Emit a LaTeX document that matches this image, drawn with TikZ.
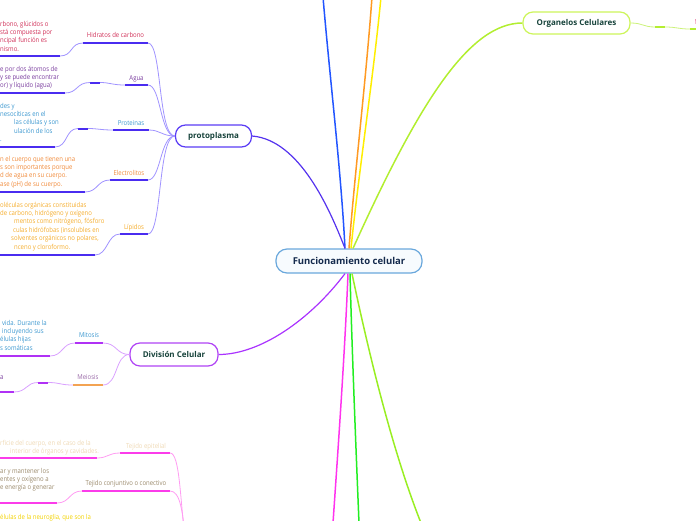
\documentclass[tikz,border=0pt]{standalone}
\usepackage{fontspec}
\setmainfont{Open Sans}
\newfontfamily\detfont[FakeStretch=0.88]{Open Sans}
\definecolor{cenB}{HTML}{6AA8DC}
\definecolor{cenF}{HTML}{F7FBFE}
\definecolor{cenT}{HTML}{142A4D}
\definecolor{nodeT}{HTML}{17433B}
\definecolor{protB}{HTML}{5A3CF5}
\definecolor{divB}{HTML}{B044F5}
\definecolor{orgB}{HTML}{CDF55A}
\definecolor{lBlue}{HTML}{2255FF}
\definecolor{lOrange}{HTML}{FF9A22}
\definecolor{lYellow}{HTML}{FFEE00}
\definecolor{lYG}{HTML}{B2EE30}
\definecolor{lProt}{HTML}{5533EE}
\definecolor{lDiv}{HTML}{AA33FF}
\definecolor{lMag}{HTML}{FF33EE}
\definecolor{lGreen}{HTML}{22EE22}
\definecolor{lYG2}{HTML}{99EE22}
\definecolor{pThk}{HTML}{4A2CF0}
\definecolor{pThn}{HTML}{A093FF}
\definecolor{dThk}{HTML}{B031F5}
\definecolor{dThn}{HTML}{D9A0FF}
\definecolor{meiU}{HTML}{F3A352}
\definecolor{tThk}{HTML}{FB3CEA}
\definecolor{tThn}{HTML}{FF9CF2}
\definecolor{oThn}{HTML}{CCF27A}
\definecolor{oThk}{HTML}{B4EE30}
\definecolor{crimT}{HTML}{D03058}
\definecolor{purT}{HTML}{7A3D9E}
\definecolor{bluT}{HTML}{3B97CF}
\definecolor{oraT}{HTML}{F08A3A}
\definecolor{yorT}{HTML}{F4AC2C}
\definecolor{meiT}{HTML}{9A6AA8}
\definecolor{epiT}{HTML}{EFD9B5}
\definecolor{conT}{HTML}{9B8A6C}
\definecolor{yelT}{HTML}{F2D200}
\definecolor{pinkT}{HTML}{E86A9A}
\begin{document}
\begin{tikzpicture}[x=1pt,y=-1pt,
  hub/.style={draw, rounded corners=10pt, line width=1.2pt, inner sep=0pt, fill=white,
    font=\bfseries\fontsize{8}{9}\selectfont, text=nodeT},
  lbl/.style={inner sep=0pt, anchor=base, font=\detfont\fontsize{6.8}{8.4}\selectfont},
  txt/.style={inner sep=0pt, anchor=base west, align=left, font=\detfont\fontsize{6.8}{8.4}\selectfont},
  mainline/.style={line width=1.5pt},
  thk/.style={line width=2pt},
  thn/.style={line width=0.8pt},
]
\useasboundingbox (0,0) rectangle (696,520);

% ---------- main nodes ----------
\node[hub, draw=cenB, fill=cenF, text=cenT, minimum width=146pt, minimum height=24pt,
  rounded corners=11pt, font=\bfseries\fontsize{9.5}{11}\selectfont] (central) at (349,261) {Funcionamiento celular};
\node[hub, draw=protB, minimum width=76pt, minimum height=22pt] (proto) at (213.5,136) {protoplasma};
\node[hub, draw=divB, minimum width=88pt, minimum height=23pt] (divi) at (174,354.5) {División Celular};
\node[hub, draw=orgB, minimum width=107pt, minimum height=22pt] (organ) at (576.5,23) {Organelos Celulares};

% ---------- far ends of main connectors ----------
\coordinate (eBlue) at (323,-3);
\coordinate (eOrange) at (372,-3);
\coordinate (eYellow) at (381,-3);
\coordinate (eMag) at (333,523);
\coordinate (eGreen) at (359,523);
\coordinate (eYG) at (421,523);

% ---------- main connectors ----------
\draw[mainline, lBlue] ([xshift=-4pt]central.north) .. controls (341,170) and (330,80) .. (eBlue);
\draw[mainline, lOrange] ([xshift=0pt]central.north) .. controls (355,170) and (366,80) .. (eOrange);
\draw[mainline, lYellow] ([xshift=2pt]central.north) .. controls (359,170) and (373,80) .. (eYellow);
\draw[mainline, lYG] ([xshift=4pt]central.north) .. controls (420,100) and (470,23) .. (organ.west);
\draw[mainline, lProt, line width=1.2pt] (proto.east) .. controls (300,140) and (330,210) .. ([xshift=-4pt]central.north);
\draw[mainline, lDiv, line width=1.2pt] ([xshift=-4pt]central.south) .. controls (310,320) and (260,354.5) .. (divi.east);
\draw[mainline, lMag] ([xshift=-1pt]central.south) .. controls (345,350) and (338,450) .. (eMag);
\draw[mainline, lGreen] ([xshift=1pt]central.south) .. controls (352,350) and (356,450) .. (eGreen);
\draw[mainline, lYG2] ([xshift=3pt]central.south) .. controls (368,350) and (392,450) .. (eYG);

% ---------- Organelos right side ----------
\coordinate (oA) at (655,27);
\coordinate (oB) at (665,27);
\coordinate (oC) at (690,29);
\coordinate (oD) at (700,29);
\draw[thn, oThn] (organ.east) .. controls (643,23) and (643,27) .. (oA);
\draw[thk, oThk] (oA) -- (oB);
\draw[thn, oThn] (oB) .. controls (677,27) and (678,29) .. (oC);
\draw[thk, oThk] (oC) -- (oD);
\node[txt, text=pinkT] (orgText) at (694.5,24) {M};

% ---------- protoplasma subtree ----------
\node[lbl, text=crimT] (hidL) at (115.5,37.5) {Hidratos de carbono};
\node[lbl, text=purT] (aguL) at (136.5,80.5) {Agua};
\node[lbl, text=bluT] (proL) at (131,125.5) {Proteinas};
\node[lbl, text=oraT] (eleL) at (129,175.5) {Electrolitos};
\node[lbl, text=yorT] (lipL) at (134,229.5) {Lípidos};

\coordinate (hidA) at (83,43);  \coordinate (hidB) at (148,43);
\coordinate (aguA) at (125,85); \coordinate (aguB) at (148,85);
\coordinate (proA) at (113,130); \coordinate (proB) at (149,130);
\coordinate (eleA) at (110,180); \coordinate (eleB) at (148,180);
\coordinate (lipA) at (120,234); \coordinate (lipB) at (148,234);

\foreach \n in {hid,agu,pro,ele,lip}{\draw[thk, pThk] (\n A) -- (\n B);}
\draw[thn, pThn] (hidB) .. controls (162,43) and (158,136) .. (proto.west);
\draw[thn, pThn] (aguB) .. controls (161,85) and (160,136) .. (proto.west);
\draw[thn, pThn] (proB) .. controls (160,130) and (162,136) .. (proto.west);
\draw[thn, pThn] (eleB) .. controls (161,180) and (160,136) .. (proto.west);
\draw[thn, pThn] (lipB) .. controls (162,234) and (158,136) .. (proto.west);

% detail texts (anchor = baseline of the last line)
\node[txt, text=crimT] (hidT) at (0,51.2) {rbono, glúcidos o\\stá compuesta por\\ncipal función es\\nismo.};
\node[txt, text=purT] (aguT) at (0,87.8) {e por dos átomos de\\y se puede encontrar\\or) y líquido (agua)};
\node[txt, text=bluT] (proT) at (0,141.6) {des y\\nesocíticas en el\\\hspace*{14pt}las células y son\\\hspace*{14pt}ulación de los\\.};
\node[txt, text=oraT] (eleT) at (0,186.2) {n el cuerpo que tienen una\\s son importantes porque\\d de agua en su cuerpo.\\ase (pH) de su cuerpo.};
\node[txt, text=yorT] (lipT) at (0,249) {oléculas orgánicas constituidas\\de carbono, hidrógeno y oxígeno\\\hspace*{14pt}mentos como nitrógeno, fósforo\\\hspace*{13pt}culas hidrófobas (insolubles en\\\hspace*{11pt}solventes orgánicos no polares,\\\hspace*{14pt}nceno y cloroformo.};

\coordinate (hidU) at (60,56);  \coordinate (hidU0) at (-5,56);
\coordinate (aguD1) at (100,82.5); \coordinate (aguD2) at (90,82.5);
\coordinate (aguU) at (65,93); \coordinate (aguU0) at (-5,93);
\coordinate (proD1) at (88,128.5); \coordinate (proD2) at (78,128.5);
\coordinate (proU) at (55,147); \coordinate (proU0) at (-5,147);
\coordinate (eleU) at (85,192); \coordinate (eleU0) at (-5,192);
\coordinate (lipU) at (95,255); \coordinate (lipU0) at (-5,255);

\draw[thn, pThn] (hidA) .. controls (70,43) and (73,56) .. (hidU);
\draw[thk, pThk] (hidU) -- (hidU0);
\draw[thn, pThn] (aguA) .. controls (112,85) and (110,82.5) .. (aguD1);
\draw[thk, pThk] (aguD1) -- (aguD2);
\draw[thn, pThn] (aguD2) .. controls (76,82.5) and (78,93) .. (aguU);
\draw[thk, pThk] (aguU) -- (aguU0);
\draw[thn, pThn] (proA) .. controls (100,130) and (98,128.5) .. (proD1);
\draw[thk, pThk] (proD1) -- (proD2);
\draw[thn, pThn] (proD2) .. controls (65,128.5) and (68,147) .. (proU);
\draw[thk, pThk] (proU) -- (proU0);
\draw[thn, pThn] (eleA) .. controls (97,180) and (98,192) .. (eleU);
\draw[thk, pThk] (eleU) -- (eleU0);
\draw[thn, pThn] (lipA) .. controls (107,234) and (108,255) .. (lipU);
\draw[thk, pThk] (lipU) -- (lipU0);

% ---------- División Celular subtree ----------
\node[lbl, text=bluT] (mitL) at (89,337.5) {Mitosis};
\node[lbl, text=meiT] (meiL) at (88,379.5) {Meiosis};
\coordinate (mitA) at (75,343); \coordinate (mitB) at (103,343);
\coordinate (meiA) at (73,385); \coordinate (meiB) at (103,385);
\draw[thk, dThk] (mitA) -- (mitB);
\draw[thk, meiU] (meiA) -- (meiB);
\draw[thn, dThn] (mitB) .. controls (117,343) and (116,354.5) .. (divi.west);
\draw[thn, dThn] (meiB) .. controls (118,385) and (115,354.5) .. (divi.west);

\node[txt, text=bluT] (mitT) at (0,350.2) {\hspace*{2pt}vida. Durante la\\\hspace*{2pt}incluyendo sus\\élulas hijas\\s somáticas};
\node[txt, text=purT] (meiT) at (0,379) {a};

\coordinate (mitU) at (50,356); \coordinate (mitU0) at (-5,356);
\draw[thn, dThn] (mitA) .. controls (62,343) and (63,356) .. (mitU);
\draw[thk, dThk] (mitU) -- (mitU0);
\coordinate (meiD1) at (48,382.5); \coordinate (meiD2) at (38,382.5);
\coordinate (meiU) at (14,392); \coordinate (meiU0) at (-5,392);
\draw[thn, dThn] (meiA) .. controls (60,385) and (60,382.5) .. (meiD1);
\draw[thk, dThk] (meiD1) -- (meiD2);
\draw[thn, dThn] (meiD2) .. controls (26,382.5) and (27,392) .. (meiU);
\draw[thk, dThk] (meiU) -- (meiU0);

% ---------- Tejidos subtree ----------
\coordinate (tejP) at (186,548);
\node[lbl, text=epiT] (epiL) at (146,448.5) {Tejido epitelial};
\node[lbl, text=conT] (conL) at (126,485.5) {Tejido conjuntivo o conectivo};
\coordinate (epiA) at (120,453); \coordinate (epiB) at (170,453);
\coordinate (conA) at (82,491);  \coordinate (conB) at (170,491);
\draw[thk, tThk] (epiA) -- (epiB);
\draw[thk, tThk] (conA) -- (conB);
\draw[thn, tThn] (epiB) .. controls (180,453) and (180,500) .. (tejP);
\draw[thn, tThn] (conB) .. controls (180,491) and (183,510) .. (tejP);

\node[txt, text=epiT] (epiT) at (0,453.4) {rficie del cuerpo, en el caso de la\\\hspace*{10pt}interior de órganos y cavidades.};
\node[txt, text=conT] (conT) at (0,489.8) {ar y mantener los\\entes y oxígeno a\\e energía o generar};
\node[txt, text=yelT] (yelT) at (0,519) {élulas de la neuroglia, que son la};

\coordinate (epiU) at (97,458); \coordinate (epiU0) at (-5,458);
\coordinate (conU) at (57,503); \coordinate (conU0) at (-5,503);
\draw[thn, tThn] (epiA) .. controls (108,453) and (108,458) .. (epiU);
\draw[thk, tThk] (epiU) -- (epiU0);
\draw[thn, tThn] (conA) .. controls (69,491) and (70,503) .. (conU);
\draw[thk, tThk] (conU) -- (conU0);
\end{tikzpicture}
\end{document}
